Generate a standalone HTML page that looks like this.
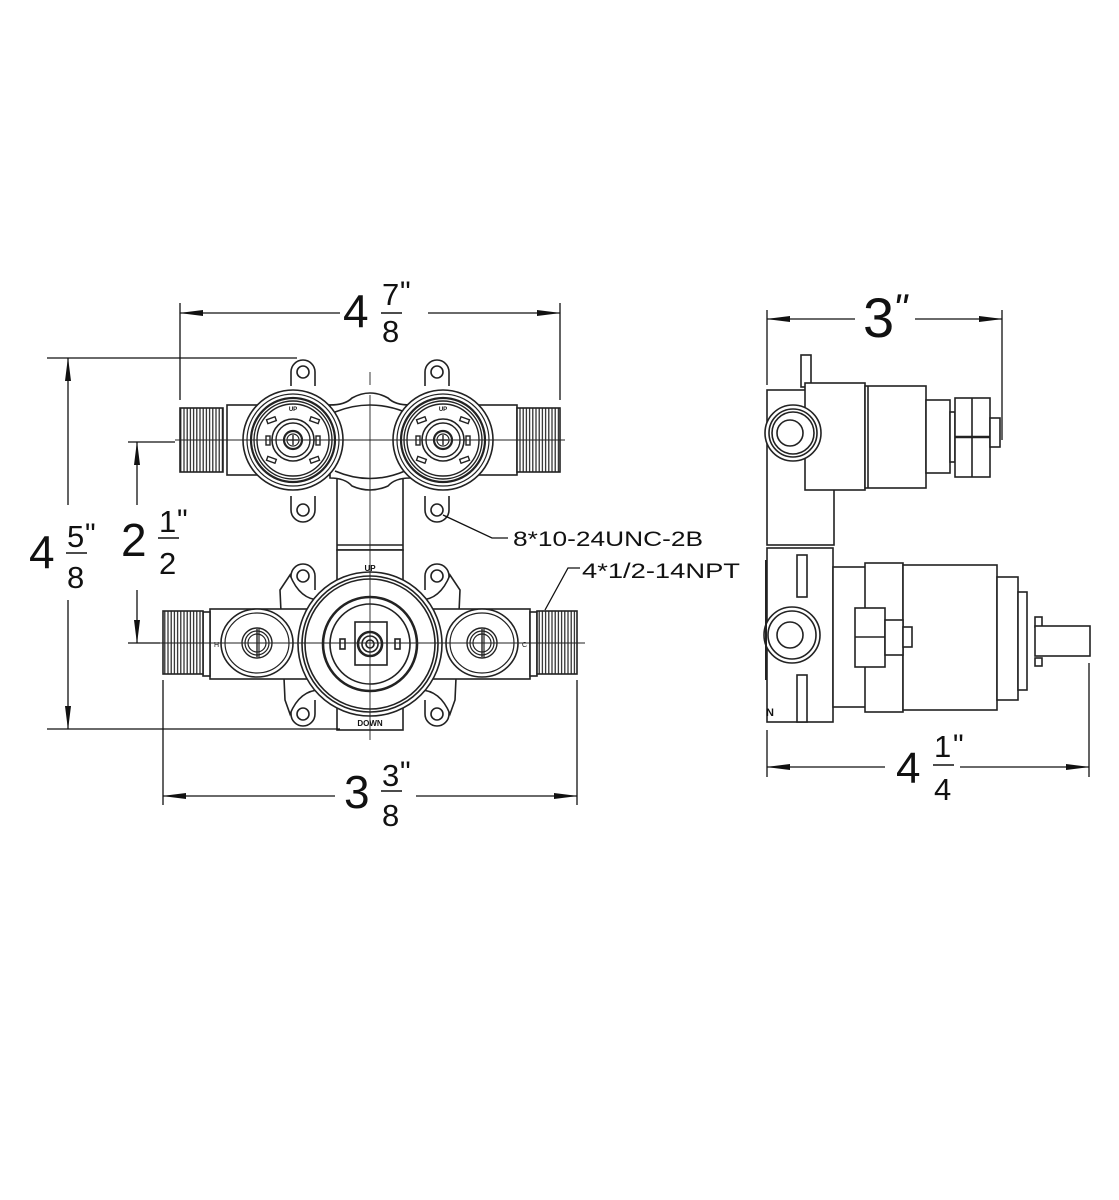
<!DOCTYPE html>
<html><head><meta charset="utf-8"><style>
html,body{margin:0;padding:0;background:#fff;}
svg{display:block;}
text{font-family:"Liberation Sans",sans-serif;fill:#111;}
</style></head><body>
<svg width="1119" height="1200" viewBox="0 0 1119 1200" xmlns="http://www.w3.org/2000/svg">
<defs>
<marker id="ar" markerWidth="24" markerHeight="8" refX="23" refY="4" orient="auto" markerUnits="userSpaceOnUse">
<path d="M0,1 L24,4 L0,7 Z" fill="#111"/></marker>
<pattern id="thr" width="3.2" height="10" patternUnits="userSpaceOnUse">
<rect width="3.2" height="10" fill="#fff"/><line x1="1.6" y1="0" x2="1.6" y2="10" stroke="#222" stroke-width="1.2"/></pattern>
<g id="ear"><path d="M-12,14 L-12,0 A12,12 0 0 1 12,0 L12,14" fill="#fff" stroke="#222" stroke-width="1.6"/><circle r="6" fill="none" stroke="#222" stroke-width="1.6"/></g>
<g id="valve" fill="none" stroke="#222">
<circle r="50" stroke-width="1.6" fill="#fff"/><circle r="46" stroke-width="1.2"/><circle r="42" stroke-width="2.2"/><circle r="39" stroke-width="1.4"/><circle r="36" stroke-width="1.4"/>
<circle r="21" stroke-width="1.6"/><circle r="17" stroke-width="1.4"/><circle r="9" stroke-width="2.2"/><circle r="6" stroke-width="1.2"/>
<line x1="-5" y1="0" x2="5" y2="0" stroke-width="1.4"/><line x1="0" y1="-5" x2="0" y2="5" stroke-width="1.4"/>
<rect x="-27" y="-4" width="4" height="9" stroke-width="1.4"/><rect x="23" y="-4" width="4" height="9" stroke-width="1.4"/>
<rect x="-18" y="-28" width="9" height="4" transform="rotate(-20)" stroke-width="1.4"/><rect x="9" y="-28" width="9" height="4" transform="rotate(20)" stroke-width="1.4"/>
<rect x="-18" y="24" width="9" height="4" transform="rotate(20)" stroke-width="1.4"/><rect x="9" y="24" width="9" height="4" transform="rotate(-20)" stroke-width="1.4"/>
<text x="0" y="-29" font-size="6" text-anchor="middle" stroke="none" font-weight="bold">UP</text>
</g>
<g id="side" fill="none" stroke="#222">
<ellipse rx="36" ry="34" stroke-width="1.6" fill="#fff"/><ellipse rx="32" ry="30" stroke-width="1.2"/>
<circle r="15" stroke-width="1.4"/><circle r="12" stroke-width="1.2"/><circle r="9" stroke-width="1.2"/>
<line x1="0" y1="-14" x2="0" y2="14" stroke-width="1.4"/><line x1="2" y1="-14" x2="2" y2="14" stroke-width="1.2"/>
</g>
</defs>

<g stroke="#222" stroke-width="1.6" fill="#fff">
<use href="#ear" x="303" y="372"/><use href="#ear" x="437" y="372"/>
<g transform="translate(303,510) scale(1,-1)"><use href="#ear"/></g>
<g transform="translate(437,510) scale(1,-1)"><use href="#ear"/></g>
<rect x="337" y="478" width="66" height="72"/>
<line x1="337" y1="545" x2="403" y2="545"/>
<rect x="227" y="405" width="290" height="70"/>
<path d="M330,405 Q345,405 352,398 Q370,388 388,398 Q395,405 410,405 L410,478 Q395,478 388,486 Q370,494 352,486 Q345,478 330,478 Z"/>
<path d="M335,412 Q370,398 405,412" fill="none"/>
<path d="M335,471 Q370,486 405,471" fill="none"/>
<rect x="180" y="408" width="43" height="64" fill="url(#thr)"/>
<rect x="517" y="408" width="43" height="64" fill="url(#thr)"/>
<use href="#valve" x="293" y="440"/><use href="#valve" x="443" y="440"/>

<rect x="337" y="550" width="66" height="180"/>
<use href="#ear" x="303" y="576"/><use href="#ear" x="437" y="576"/>
<g transform="translate(303,714) scale(1,-1)"><use href="#ear"/></g>
<g transform="translate(437,714) scale(1,-1)"><use href="#ear"/></g>
<path d="M290,575 Q300,600 320,600 L420,600 Q440,600 450,575 L460,590 L455,700 L450,714 Q440,690 420,690 L320,690 Q300,690 290,714 L285,700 L280,590 Z"/>
<rect x="210" y="609" width="320" height="70"/>
<rect x="203" y="612" width="7" height="64"/><rect x="530" y="612" width="7" height="64"/>
<rect x="163" y="611" width="40" height="63" fill="url(#thr)"/>
<rect x="537" y="611" width="40" height="63" fill="url(#thr)"/>
<use href="#side" x="257" y="643"/><use href="#side" x="482" y="643"/>
<circle cx="370" cy="644" r="72"/><circle cx="370" cy="644" r="68" fill="none"/><circle cx="370" cy="644" r="65" fill="none"/>
<circle cx="370" cy="644" r="47" fill="none" stroke-width="2.6"/><circle cx="370" cy="644" r="40" fill="none"/>
<rect x="355" y="622" width="32" height="43" fill="none"/>
<rect x="340" y="639" width="5" height="10" fill="none"/><rect x="395" y="639" width="5" height="10" fill="none"/>
<circle cx="370" cy="644" r="12" fill="none" stroke-width="2.6"/><circle cx="370" cy="644" r="8" fill="none"/><circle cx="370" cy="644" r="4" fill="none"/>
</g>
<text x="370" y="571" font-size="8" font-weight="bold" text-anchor="middle">UP</text>
<text x="370" y="726" font-size="8" font-weight="bold" text-anchor="middle">DOWN</text>
<text x="214" y="647" font-size="7">H</text><text x="522" y="647" font-size="7">C</text>

<g stroke="#222" stroke-width="0.9" fill="none">
<line x1="370" y1="372" x2="370" y2="385"/><line x1="370" y1="395" x2="370" y2="740"/>
<line x1="175" y1="440" x2="565" y2="440"/>
<line x1="155" y1="643" x2="585" y2="643"/>
</g>

<g stroke="#111" stroke-width="1.3" fill="none">
<line x1="180" y1="303" x2="180" y2="400"/><line x1="560" y1="303" x2="560" y2="400"/>
<line x1="340" y1="313" x2="180" y2="313" marker-end="url(#ar)"/><line x1="428" y1="313" x2="560" y2="313" marker-end="url(#ar)"/>
<line x1="47" y1="358" x2="297" y2="358"/><line x1="47" y1="729" x2="340" y2="729"/>
<line x1="68" y1="505" x2="68" y2="358" marker-end="url(#ar)"/><line x1="68" y1="600" x2="68" y2="729" marker-end="url(#ar)"/>
<line x1="128" y1="442" x2="175" y2="442"/><line x1="128" y1="643" x2="160" y2="643"/>
<line x1="137" y1="505" x2="137" y2="442" marker-end="url(#ar)"/><line x1="137" y1="590" x2="137" y2="643" marker-end="url(#ar)"/>
<line x1="163" y1="680" x2="163" y2="805"/><line x1="577" y1="680" x2="577" y2="805"/>
<line x1="335" y1="796" x2="163" y2="796" marker-end="url(#ar)"/><line x1="416" y1="796" x2="577" y2="796" marker-end="url(#ar)"/>
<line x1="767" y1="310" x2="767" y2="385"/><line x1="1002" y1="310" x2="1002" y2="440"/>
<line x1="855" y1="319" x2="767" y2="319" marker-end="url(#ar)"/><line x1="915" y1="319" x2="1002" y2="319" marker-end="url(#ar)"/>
<line x1="767" y1="730" x2="767" y2="777"/><line x1="1089" y1="663" x2="1089" y2="777"/>
<line x1="885" y1="767" x2="767" y2="767" marker-end="url(#ar)"/><line x1="960" y1="767" x2="1089" y2="767" marker-end="url(#ar)"/>
<polyline points="443,515 492,538 508,538"/>
<polyline points="545,610 568,568 580,568"/>
</g>

<g>
<text x="343" y="327" font-size="46">4</text><text x="382" y="305" font-size="31">7</text><line x1="381" y1="313" x2="402" y2="313" stroke="#111" stroke-width="1.6"/><text x="382" y="342" font-size="31">8</text><text x="400" y="302" font-size="30">"</text>
<text x="29" y="568" font-size="46">4</text><text x="67" y="547" font-size="31">5</text><line x1="66" y1="553" x2="87" y2="553" stroke="#111" stroke-width="1.6"/><text x="67" y="588" font-size="31">8</text><text x="85" y="544" font-size="30">"</text>
<text x="121" y="556" font-size="46">2</text><text x="159" y="532" font-size="31">1</text><line x1="158" y1="538" x2="179" y2="538" stroke="#111" stroke-width="1.6"/><text x="159" y="574" font-size="31">2</text><text x="177" y="530" font-size="30">"</text>
<text x="344" y="808" font-size="46">3</text><text x="382" y="786" font-size="31">3</text><line x1="381" y1="791" x2="402" y2="791" stroke="#111" stroke-width="1.6"/><text x="382" y="826" font-size="31">8</text><text x="400" y="782" font-size="30">"</text>
<text x="863" y="337" font-size="56">3</text><text x="893" y="322" font-size="40" font-style="italic">"</text>
<text x="896" y="783" font-size="44">4</text><text x="934" y="757" font-size="31">1</text><line x1="933" y1="765" x2="954" y2="765" stroke="#111" stroke-width="1.6"/><text x="934" y="800" font-size="31">4</text><text x="953" y="755" font-size="30">"</text>
<text x="513" y="546" font-size="21" textLength="190" lengthAdjust="spacingAndGlyphs">8*10-24UNC-2B</text>
<text x="582" y="578" font-size="21" textLength="158" lengthAdjust="spacingAndGlyphs">4*1/2-14NPT</text>
</g>

<g stroke="#222" stroke-width="1.6" fill="#fff">
<rect x="801" y="355" width="10" height="32"/><rect x="801" y="487" width="10" height="32"/>
<rect x="767" y="390" width="67" height="155"/>
<rect x="805" y="383" width="60" height="107"/>
<rect x="865" y="386" width="61" height="102"/>
<line x1="868" y1="386" x2="868" y2="488"/>
<rect x="926" y="400" width="24" height="73"/>
<rect x="950" y="412" width="5" height="50"/>
<rect x="955" y="398" width="35" height="79"/>
<line x1="955" y1="437" x2="990" y2="437" stroke-width="2.4"/>
<line x1="972" y1="398" x2="972" y2="477"/>
<rect x="990" y="418" width="10" height="29"/>
<circle cx="793" cy="433" r="28"/><circle cx="793" cy="433" r="24" fill="none"/><circle cx="793" cy="433" r="21" fill="none"/><circle cx="790" cy="433" r="13" fill="none"/>
<rect x="767" y="548" width="66" height="174"/>
<rect x="833" y="567" width="34" height="140"/>
<rect x="865" y="563" width="38" height="149"/>
<rect x="903" y="565" width="94" height="145"/>
<rect x="997" y="577" width="21" height="123"/>
<rect x="1018" y="592" width="9" height="98"/>
<rect x="1035" y="617" width="7" height="10"/>
<rect x="1035" y="626" width="55" height="30"/>
<rect x="1035" y="658" width="7" height="8"/>
<rect x="797" y="555" width="10" height="42"/><rect x="797" y="675" width="10" height="47"/>
<rect x="855" y="608" width="30" height="59"/><line x1="855" y1="637" x2="885" y2="637"/>
<rect x="885" y="620" width="18" height="35"/>
<rect x="903" y="627" width="9" height="20"/>
<circle cx="792" cy="635" r="28"/><circle cx="792" cy="635" r="24" fill="none"/><circle cx="790" cy="635" r="13" fill="none"/>
</g>
<g fill="#222"><rect x="765" y="560" width="2" height="120"/></g>
<text x="766" y="716" font-size="11" font-weight="bold">N</text>
</svg>
</body></html>
